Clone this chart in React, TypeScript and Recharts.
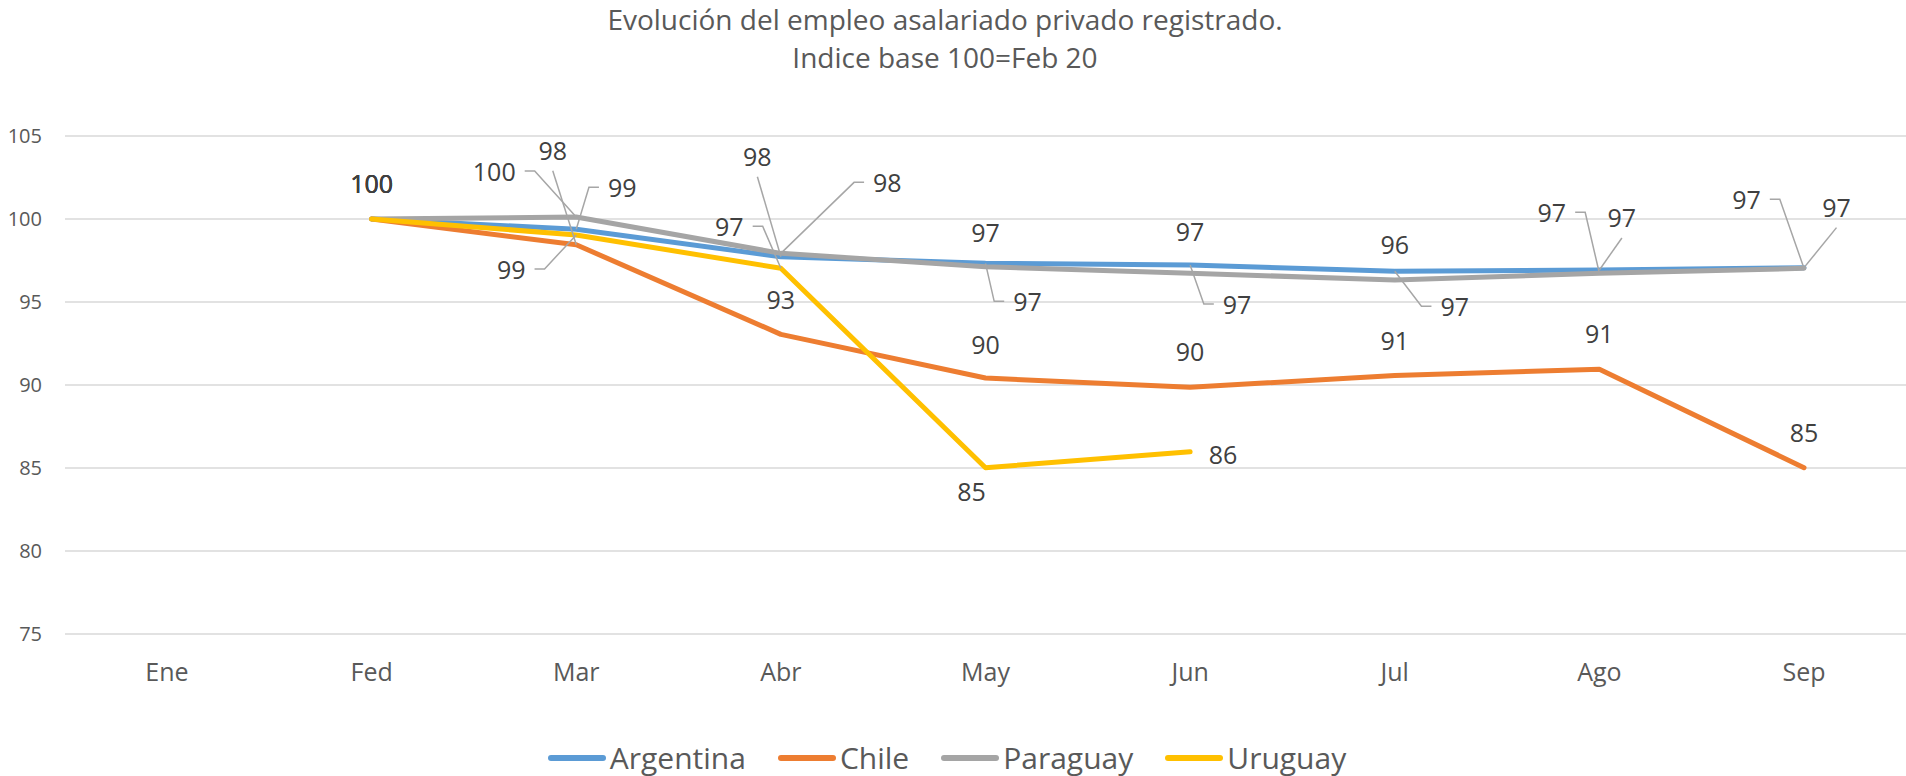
import { LineChart, Line, XAxis, YAxis, CartesianGrid } from "recharts";

const months = ["Ene", "Fed", "Mar", "Abr", "May", "Jun", "Jul", "Ago", "Sep"];
const argentina = [null, 100, 99.38, 97.73, 97.33, 97.23, 96.85, 96.93, 97.07];
const chile = [null, 100, 98.45, 93.05, 90.42, 89.86, 90.57, 90.95, 85.02];
const paraguay = [null, 100, 100.12, 97.93, 97.13, 96.73, 96.33, 96.73, 97.03];
const uruguay = [null, 100, 99.04, 97.03, 85.02, 85.98, null, null, null];
const yTicks = [75, 80, 85, 90, 95, 100, 105];

const series = [
  { key: "argentina", name: "Argentina", color: "#5B9BD5" },
  { key: "chile", name: "Chile", color: "#ED7D31" },
  { key: "paraguay", name: "Paraguay", color: "#A5A5A5" },
  { key: "uruguay", name: "Uruguay", color: "#FFC000" },
];

const data = months.map((month, i) => ({
  month,
  argentina: argentina[i],
  chile: chile[i],
  paraguay: paraguay[i],
  uruguay: uruguay[i],
}));

// label offset from the point: [dx, dy, leader kind]
type Place = [number, number, "none" | "down" | "left" | "right"] | null;
const ABOVE: Place = [0, -35, "none"];
const labelPlaces: Record<string, Place[]> = {
  argentina: [null, ABOVE, [46, -41, "right"], [-23.5, -100, "down"], [42, 39, "right"], [47, 40, "right"], [60, 36, "right"], [22.5, -52, "down"], [32.5, -60, "down"]],
  chile: [null, ABOVE, [-23.5, -94, "down"], [0, -34, "none"], [0, -33, "none"], [0, -35, "none"], [0, -35, "none"], [0, -35, "none"], [0, -35, "none"]],
  paraguay: [null, ABOVE, [-82, -45, "left"], [106.5, -70, "right"], [0, -34, "none"], [0, -41, "none"], [0, -35, "none"], [-47.5, -60, "left"], [-57.5, -68, "left"]],
  uruguay: [null, ABOVE, [-65, 35, "left"], [-51.5, -41, "left"], [-14, 24, "none"], [33, 3, "none"], null, null, null],
};

const FONT = "'Open Sans', 'Noto Sans', sans-serif";
const LABEL_SIZE = 25;

function makeLabel(key: string) {
  return (props: any) => {
    const { x, y, value, index } = props;
    if (value == null || x == null || y == null) return null;
    const place = labelPlaces[key][index];
    if (!place) return null;
    const [dx, dy, kind] = place;
    const text = String(Math.round(value));
    const cx = x + dx;
    const cy = y + dy;
    const w = text.length * 0.572 * LABEL_SIZE;
    let d: string | null = null;
    if (kind === "down") d = `M${cx},${cy + 20}L${x},${y}`;
    if (kind === "left") {
      const sx = cx + w / 2 + 9;
      d = `M${sx},${cy - 1}H${sx + 10}L${x},${y}`;
    }
    if (kind === "right") {
      const sx = cx - w / 2 - 9;
      d = `M${sx},${cy - 1}H${sx - 10}L${x},${y}`;
    }
    return (
      <g>
        {d && <path d={d} stroke="#A6A6A6" strokeWidth={1.5} fill="none" />}
        <text x={cx} y={cy + 9} textAnchor="middle" fontSize={LABEL_SIZE} fontFamily={FONT} fill="#404040">
          {text}
        </text>
      </g>
    );
  };
}

export default function App() {
  return (
    <div style={{ position: "absolute", left: 0, top: 0, width: 1906, height: 776, background: "#fff", fontFamily: FONT }}>
      <div style={{ position: "absolute", top: 0, left: -8, width: 1906, textAlign: "center", fontSize: 28, lineHeight: "38px", color: "#595959" }}>
        <div>Evolución del empleo asalariado privado registrado.</div>
        <div>Indice base 100=Feb 20</div>
      </div>
      <LineChart width={1906} height={776} data={data} margin={{ top: 136, right: 0, bottom: 112, left: 0 }}>
        <CartesianGrid vertical={false} stroke="#D9D9D9" strokeWidth={1.5} />
        <XAxis
          dataKey="month"
          padding={{ left: 102, right: 102 }}
          axisLine={false}
          tickLine={false}
          tickSize={0}
          tickMargin={29}
          height={30}
          interval={0}
          tick={{ fontSize: 25, fill: "#595959", fontFamily: FONT }}
        />
        <YAxis
          domain={[75, 105]}
          ticks={yTicks}
          axisLine={false}
          tickLine={false}
          tickSize={0}
          tickMargin={23}
          width={65}
          tick={{ fontSize: 20, fill: "#595959", fontFamily: FONT }}
        />
        {series.map((s) => (
          <Line
            key={s.key}
            dataKey={s.key}
            name={s.name}
            stroke={s.color}
            strokeWidth={5}
            strokeLinecap="round"
            strokeLinejoin="round"
            dot={false}
            activeDot={false}
            isAnimationActive={false}
            label={makeLabel(s.key)}
          />
        ))}
      </LineChart>
      <div style={{ position: "absolute", top: 740, left: -6, width: 1906, height: 36, display: "flex", justifyContent: "center", alignItems: "center" }}>
        {series.map((s, i) => (
          <div key={s.key} style={{ display: "flex", alignItems: "center", marginLeft: i === 0 ? 0 : 32 }}>
            <span style={{ display: "inline-block", width: 58, height: 6, borderRadius: 3, background: s.color, marginRight: 4 }} />
            <span style={{ fontSize: 30, color: "#595959", lineHeight: "36px" }}>{s.name}</span>
          </div>
        ))}
      </div>
    </div>
  );
}
